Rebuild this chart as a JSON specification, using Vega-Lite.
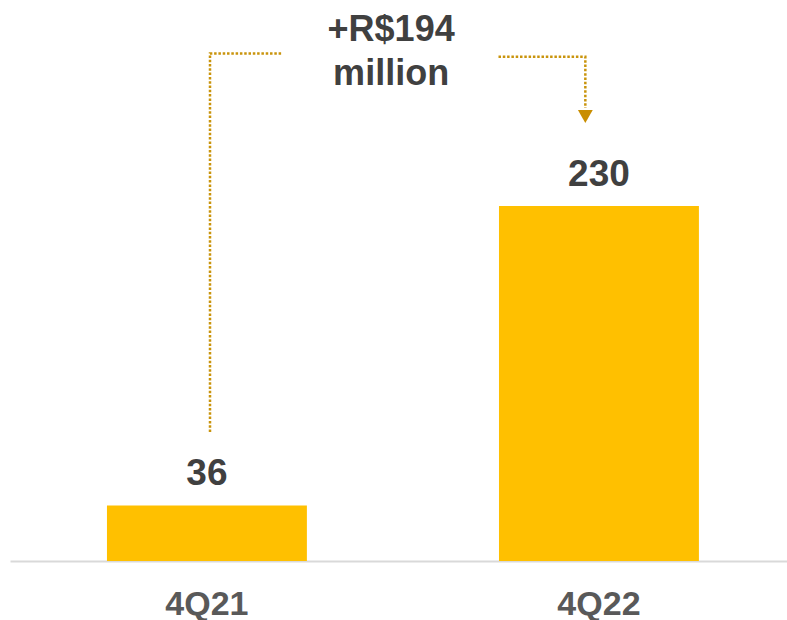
{
  "$schema": "https://vega.github.io/schema/vega-lite/v6.json",
  "autosize": {"type": "none"},
  "width": 777,
  "height": 561,
  "padding": {"left": 10, "top": 0, "right": 0, "bottom": 59},
  "background": "white",
  "config": {"view": {"stroke": null}, "font": "Liberation Sans"},
  "datasets": {
    "bars": [
      {"quarter": "4Q21", "value": 36},
      {"quarter": "4Q22", "value": 230}
    ],
    "connector": [
      {"seg": "left", "ord": 1, "pos": 0.5148, "value": 83.6},
      {"seg": "left", "ord": 2, "pos": 0.5148, "value": 328.9},
      {"seg": "left", "ord": 3, "pos": 0.700, "value": 328.9},
      {"seg": "right", "ord": 1, "pos": 1.2574, "value": 326.7},
      {"seg": "right", "ord": 2, "pos": 1.4809, "value": 326.7},
      {"seg": "right", "ord": 3, "pos": 1.4809, "value": 293.5}
    ],
    "arrow": [{"pos": 1.4809, "value": 288.0}],
    "note": [
      {"pos": 0.981, "value": 336.9, "text": "+R$194"},
      {"pos": 0.981, "value": 308.4, "text": "million"}
    ]
  },
  "resolve": {"scale": {"x": "independent"}, "axis": {"x": "independent"}},
  "layer": [
    {
      "data": {"name": "bars"},
      "mark": {"type": "bar", "color": "#FFC000"},
      "encoding": {
        "x": {
          "field": "quarter", "type": "nominal", "sort": null,
          "scale": {"type": "band", "paddingInner": 0.49, "paddingOuter": 0.236, "align": 0.524},
          "axis": {
            "title": null, "labelAngle": 0, "ticks": false,
            "domainColor": "#D9D9D9", "domainWidth": 2,
            "labelFont": "Liberation Sans", "labelFontWeight": "bold",
            "labelFontSize": 34, "labelColor": "#595959", "labelPadding": 26
          }
        },
        "y": {
          "field": "value", "type": "quantitative",
          "scale": {"domain": [0, 363.5], "nice": false, "zero": true},
          "axis": null
        }
      }
    },
    {
      "data": {"name": "bars"},
      "mark": {"type": "text", "baseline": "alphabetic", "align": "center", "dy": -20, "font": "Liberation Sans", "fontWeight": "bold", "fontSize": 37, "color": "#404040"},
      "encoding": {
        "x": {
          "field": "quarter", "type": "nominal", "sort": null,
          "scale": {"type": "band", "paddingInner": 0.49, "paddingOuter": 0.236, "align": 0.524},
          "axis": null
        },
        "y": {"field": "value", "type": "quantitative", "scale": {"domain": [0, 363.5], "nice": false, "zero": true}, "axis": null},
        "text": {"field": "value", "type": "quantitative"}
      }
    },
    {
      "data": {"name": "connector"},
      "mark": {"type": "line", "color": "#C9940C", "strokeWidth": 2.5, "strokeDash": [2.5, 1.8], "strokeCap": "butt"},
      "encoding": {
        "x": {"field": "pos", "type": "quantitative", "scale": {"domain": [0, 2], "nice": false, "zero": false}, "axis": null},
        "y": {"field": "value", "type": "quantitative", "scale": {"domain": [0, 363.5], "nice": false, "zero": true}, "axis": null},
        "detail": {"field": "seg", "type": "nominal"},
        "order": {"field": "ord", "type": "quantitative"}
      }
    },
    {
      "data": {"name": "arrow"},
      "mark": {"type": "point", "shape": "triangle-down", "filled": true, "size": 220, "color": "#C98E00", "opacity": 1},
      "encoding": {
        "x": {"field": "pos", "type": "quantitative", "scale": {"domain": [0, 2], "nice": false, "zero": false}, "axis": null},
        "y": {"field": "value", "type": "quantitative", "scale": {"domain": [0, 363.5], "nice": false, "zero": true}, "axis": null}
      }
    },
    {
      "data": {"name": "note"},
      "mark": {"type": "text", "baseline": "alphabetic", "align": "center", "font": "Liberation Sans", "fontWeight": "bold", "fontSize": 36, "color": "#404040"},
      "encoding": {
        "x": {"field": "pos", "type": "quantitative", "scale": {"domain": [0, 2], "nice": false, "zero": false}, "axis": null},
        "y": {"field": "value", "type": "quantitative", "scale": {"domain": [0, 363.5], "nice": false, "zero": true}, "axis": null},
        "text": {"field": "text", "type": "nominal"}
      }
    }
  ]
}
